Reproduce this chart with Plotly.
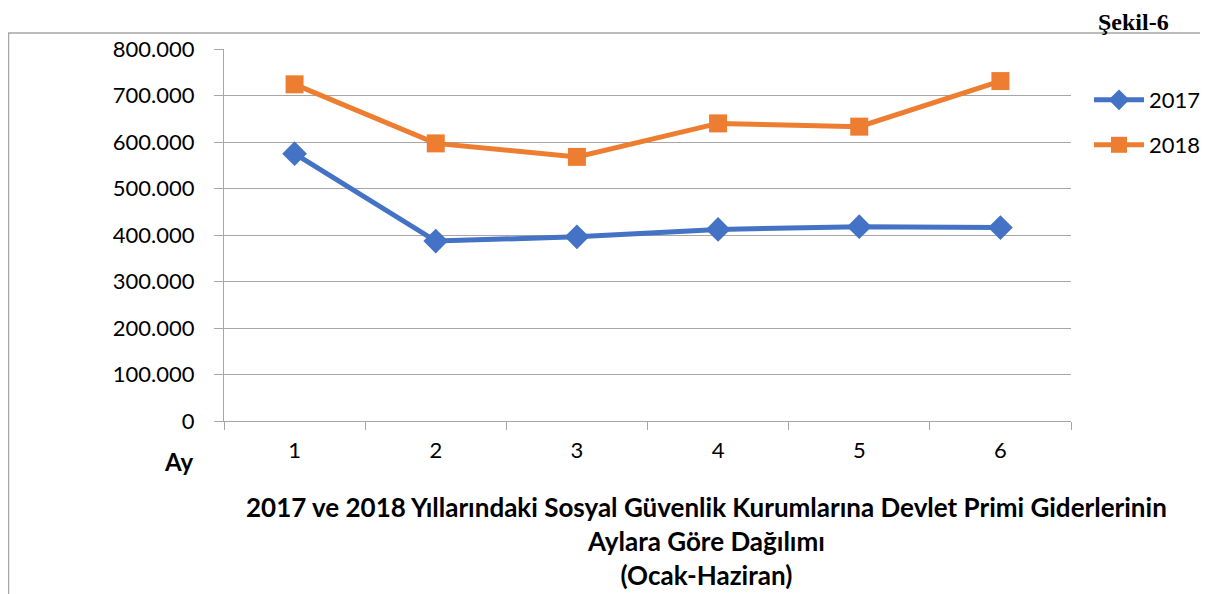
import plotly.graph_objects as go

months = ["1", "2", "3", "4", "5", "6"]
values_2017 = [575000, 387000, 396000, 412000, 418000, 416000]
values_2018 = [724000, 597000, 568000, 640000, 633000, 731000]
y_ticks = [0, 100000, 200000, 300000, 400000, 500000, 600000, 700000, 800000]

FONT = "Lato"
OFF = 8  # page body margin
W, H = 1200, 586
L, T = 224 - OFF, 49 - OFF
R = W - (1071 - OFF)
B = H - (421 - OFF)
PW, PH = W - L - R, H - T - B

fig = go.Figure()
fig.add_trace(go.Scatter(
    x=months, y=values_2017, name="2017", mode="lines+markers",
    line=dict(color="#4472C4", width=5),
    marker=dict(symbol="diamond", size=19, color="#4472C4"),
    legend="legend",
))
fig.add_trace(go.Scatter(
    x=months, y=values_2018, name="2018", mode="lines+markers",
    line=dict(color="#ED7D31", width=5),
    marker=dict(symbol="square", size=18, color="#ED7D31"),
    legend="legend2",
))

def px_x(x):
    return (x - OFF - L) / PW

def px_y(y):
    return (H - B - (y - OFF)) / PH

leg_common = dict(xanchor="left", yanchor="middle", font=dict(size=22, family=FONT),
                  itemwidth=50, bgcolor="rgba(0,0,0,0)")

fig.update_layout(
    width=W, height=H,
    margin=dict(l=L, r=R, t=T, b=B, pad=0, autoexpand=False),
    paper_bgcolor="white", plot_bgcolor="white",
    separators=",.",
    font=dict(family=FONT, size=22, color="#000000"),
    showlegend=True,
    legend=dict(x=px_x(1089), y=px_y(100), **leg_common),
    legend2=dict(x=px_x(1089), y=px_y(145), **leg_common),
    xaxis=dict(type="category", tickson="boundaries", ticks="outside",
               ticklen=8, tickcolor="#a6a6a6", showline=True,
               linecolor="#a6a6a6", linewidth=1, showgrid=False,
               tickfont=dict(size=22, family=FONT), range=[-0.5, 5.5],
               zeroline=False, ticklabelstandoff=10, automargin=False),
    yaxis=dict(range=[0, 800000], tickvals=y_ticks, tickformat=",d",
               ticks="outside", ticklen=9, tickcolor="#a6a6a6",
               showline=True, linecolor="#a6a6a6", linewidth=1,
               showgrid=True, gridcolor="#a6a6a6", gridwidth=1,
               zeroline=False, ticklabelstandoff=15, automargin=False,
               tickfont=dict(size=22, family=FONT)),
)

# outer frame (cut off at right and bottom)
fig.add_shape(type="rect", xref="paper", yref="paper",
              x0=px_x(8.5), x1=px_x(1230), y0=px_y(620), y1=px_y(33),
              line=dict(color="#a6a6a6", width=1.5), layer="below")

fig.add_annotation(text="<b>Şekil-6</b>", xref="paper", yref="paper",
                   x=px_x(1170), y=px_y(8.5), xanchor="right", yanchor="top",
                   showarrow=False, font=dict(family="Liberation Serif", size=24),
                   borderpad=0)
fig.add_annotation(text="<b>Ay</b>", xref="paper", yref="paper",
                   x=px_x(196), y=px_y(462), xanchor="right", yanchor="middle",
                   showarrow=False, font=dict(family=FONT, size=24))
fig.add_annotation(
    text="<b>2017 ve 2018 Yıllarındaki Sosyal Güvenlik Kurumlarına Devlet Primi Giderlerinin</b>"
         "<br><b>Aylara Göre Dağılımı</b><br><b>(Ocak-Haziran)</b>",
    xref="paper", yref="paper", x=px_x(706), y=px_y(541),
    xanchor="center", yanchor="middle", showarrow=False, align="center",
    font=dict(family=FONT, size=26))

fig.write_html("out.html")
